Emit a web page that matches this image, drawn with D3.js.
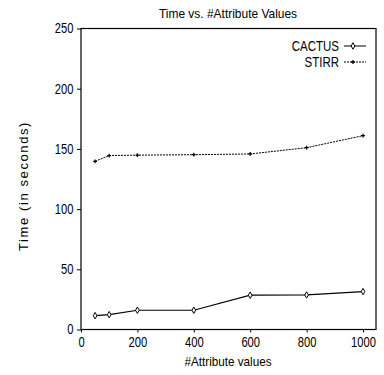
<!DOCTYPE html>
<html>
<head>
<meta charset="utf-8">
<script src="https://cdn.jsdelivr.net/npm/d3@7"></script>
<style>
  body { margin: 0; background: #fff; }
  svg text { font-family: "Liberation Sans", Arial, sans-serif; fill: #000; }
</style>
</head>
<body>
<svg id="chart" width="384" height="375"></svg>
<script>
const attrValues = [50, 100, 200, 400, 600, 800, 1000];
const cactusTimes = [11.5, 12.3, 16, 16, 28.5, 28.7, 31.5];
const stirrTimes = [139.7, 144.5, 144.8, 145.2, 145.8, 151, 161];
const xTicks = [0, 200, 400, 600, 800, 1000];
const yTicks = [0, 50, 100, 150, 200, 250];

const width = 384
const height = 375
const margin = { top: 28.5, right: 8, bottom: 45.5, left: 81 }

const svg = d3.select("#chart")

const x = d3.scaleLinear().domain([0, 1046]).range([margin.left, width - margin.right]);
const y = d3.scaleLinear().domain([0, 250]).range([height - margin.bottom, margin.top]);

// narrow-looking text: the original uses a condensed face
function label(tx, ty, str, size, sx, anchor) {
    return svg.append("text")
        .attr("transform", "translate(" + tx + "," + ty + ") scale(" + sx + ",1)")
        .attr("text-anchor", anchor || "middle")
        .attr("font-size", size)
        .text(str);
}

// title
label(228, 18, "Time vs. #Attribute Values", 13, 0.92);

// frame
svg.append("rect")
    .attr("x", margin.left).attr("y", margin.top)
    .attr("width", width - margin.right - margin.left)
    .attr("height", height - margin.bottom - margin.top)
    .attr("fill", "none").attr("stroke", "#000").attr("stroke-width", 1.2);

// axes
const xAxis = svg.append("g")
    .attr("transform", "translate(0," + (height - margin.bottom) + ")")
    .call(d3.axisBottom(x).tickValues(xTicks).tickFormat(d3.format("d")).tickSize(3).tickPadding(5));
const yAxis = svg.append("g")
    .attr("transform", "translate(" + margin.left + ",0)")
    .call(d3.axisLeft(y).tickValues(yTicks).tickSize(4).tickPadding(3));

[xAxis, yAxis].forEach(a => {
    a.select(".domain").remove();
    a.selectAll("line").attr("stroke", "#000");
    a.selectAll("text").attr("font-size", 14).attr("font-family", null);
});
xAxis.selectAll("text").attr("transform", "scale(0.8,1)");
yAxis.selectAll("text").attr("x", 0).attr("transform", "translate(-7.5,0) scale(0.8,1)");

// axis titles
label(228, 366, "#Attribute values", 13, 0.9);

svg.append("text")
    .attr("transform", "translate(28,186) rotate(-90)")
    .attr("text-anchor", "middle")
    .attr("font-size", 13)
    .attr("letter-spacing", 1.6)
    .text("Time  (in  seconds)");

// lines
const line = d3.line().x(d => x(d[0])).y(d => y(d[1]));
const cactus = attrValues.map((v, i) => [v, cactusTimes[i]]);
const stirr = attrValues.map((v, i) => [v, stirrTimes[i]]);

svg.append("path").datum(cactus)
    .attr("d", line).attr("fill", "none").attr("stroke", "#000").attr("stroke-width", 1.2);
svg.append("path").datum(stirr)
    .attr("d", line).attr("fill", "none").attr("stroke", "#000").attr("stroke-width", 1)
    .attr("stroke-dasharray", "2,1");

const diamond = d3.symbol().type(d3.symbolDiamond).size(12);
svg.selectAll(".cm").data(cactus).enter().append("path")
    .attr("class", "cm")
    .attr("transform", d => "translate(" + x(d[0]) + "," + y(d[1]) + ")")
    .attr("d", diamond).attr("fill", "#fff").attr("stroke", "#000").attr("stroke-width", 1);

const plus = d3.symbol().type(d3.symbolCross).size(8);
svg.selectAll(".sm").data(stirr).enter().append("path")
    .attr("class", "sm")
    .attr("transform", d => "translate(" + x(d[0]) + "," + y(d[1]) + ")")
    .attr("d", plus).attr("fill", "#000");

// legend
const legend = [
    { name: "CACTUS", dash: null, sym: diamond, fill: "#fff", ly: 46 },
    { name: "STIRR", dash: "2,1", sym: plus, fill: "#000", ly: 62 }
];
legend.forEach(l => {
    label(339, l.ly + 5, l.name, 14, 0.82, "end");
    svg.append("line").attr("x1", 344).attr("x2", 366).attr("y1", l.ly).attr("y2", l.ly)
        .attr("stroke", "#000").attr("stroke-dasharray", l.dash);
    svg.append("path").attr("transform", "translate(353," + l.ly + ")")
        .attr("d", l.sym).attr("fill", l.fill).attr("stroke", l.fill === "#fff" ? "#000" : null);
});
</script>
</body>
</html>
